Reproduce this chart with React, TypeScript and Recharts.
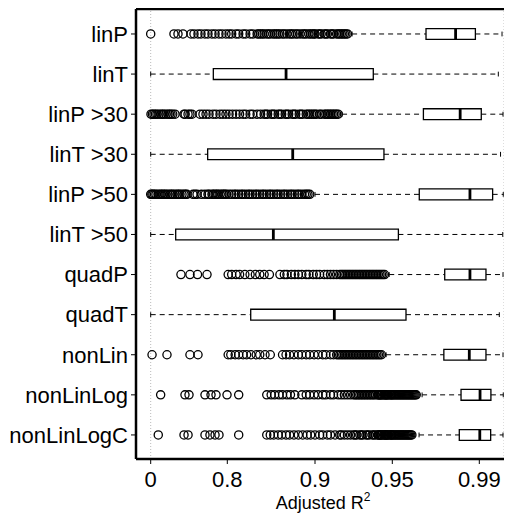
import { ScatterChart, Scatter, XAxis, YAxis, ReferenceLine, ReferenceArea } from 'recharts';

// categories, top to bottom
const CATEGORIES = ['linP', 'linT', 'linP >30', 'linT >30', 'linP >50', 'linT >50', 'quadP', 'quadT', 'nonLin', 'nonLinLog', 'nonLinLogC'];

// box statistics (adjusted R²)
const WHISKER_LOW = [0.924, 0, 0.9175, 0, 0.9, 0, 0.948, 0, 0.946, 0.9637, 0.9623];
const Q1 = [0.9655, 0.654, 0.9643, 0.595, 0.9624, 0.261, 0.9741, 0.8267, 0.9737, 0.9816, 0.9808];
const MEDIAN = [0.9791, 0.867, 0.9812, 0.8746, 0.9857, 0.8525, 0.9857, 0.9125, 0.9854, 0.9903, 0.9902];
const Q3 = [0.9882, 0.9377, 0.9908, 0.9446, 0.9954, 0.9528, 0.9927, 0.9563, 0.9927, 0.9947, 0.9946];
const WHISKER_HIGH = [0.9992, 0.9977, 0.9996, 0.9986, 0.9997, 0.9995, 0.9996, 0.9981, 0.9996, 0.9997, 0.9996];

// outliers per row
const OUT_LINP = [0, 0.243, 0.285, 0.337, 0.421, 0.452, 0.494, 0.525, 0.567, 0.598, 0.64, 0.672, 0.713, 0.745, 0.786, 0.802, 0.805, 0.81, 0.813, 0.818, 0.821, 0.826, 0.829, 0.834, 0.836, 0.838, 0.84, 0.842, 0.845, 0.847, 0.849, 0.852, 0.854, 0.856, 0.858, 0.86, 0.863, 0.865, 0.868, 0.871, 0.873, 0.875, 0.878, 0.88, 0.883, 0.886, 0.888, 0.89, 0.893, 0.895, 0.897, 0.899, 0.9, 0.902, 0.903, 0.904, 0.906, 0.907, 0.908, 0.91, 0.911, 0.912, 0.914, 0.915, 0.916, 0.917, 0.918, 0.919, 0.92, 0.921];
const OUT_LINP30 = [0.003, 0.018, 0.034, 0.05, 0.066, 0.087, 0.108, 0.124, 0.139, 0.16, 0.181, 0.196, 0.212, 0.23, 0.254, 0.348, 0.36, 0.39, 0.41, 0.431, 0.515, 0.546, 0.578, 0.609, 0.651, 0.682, 0.724, 0.755, 0.786, 0.802, 0.806, 0.81, 0.814, 0.818, 0.821, 0.826, 0.829, 0.834, 0.838, 0.842, 0.844, 0.846, 0.85, 0.852, 0.854, 0.858, 0.86, 0.862, 0.866, 0.868, 0.87, 0.874, 0.876, 0.878, 0.882, 0.884, 0.886, 0.89, 0.892, 0.894, 0.896, 0.898, 0.9, 0.901, 0.903, 0.904, 0.906, 0.907, 0.908, 0.909, 0.91, 0.911, 0.912, 0.913, 0.914, 0.915];
const OUT_LINP50 = [0, 0.012, 0.024, 0.04, 0.055, 0.076, 0.097, 0.112, 0.128, 0.144, 0.16, 0.18, 0.202, 0.218, 0.233, 0.254, 0.275, 0.29, 0.306, 0.327, 0.348, 0.364, 0.379, 0.442, 0.463, 0.484, 0.53, 0.567, 0.598, 0.61, 0.64, 0.655, 0.672, 0.69, 0.703, 0.725, 0.745, 0.76, 0.776, 0.79, 0.802, 0.805, 0.808, 0.81, 0.813, 0.816, 0.818, 0.821, 0.824, 0.826, 0.829, 0.832, 0.834, 0.837, 0.84, 0.842, 0.845, 0.848, 0.85, 0.853, 0.856, 0.858, 0.861, 0.864, 0.866, 0.869, 0.872, 0.874, 0.877, 0.88, 0.882, 0.885, 0.888, 0.89, 0.892, 0.894];
const OUT_QUADP = [0.316, 0.41, 0.489, 0.588, 0.801, 0.805, 0.81, 0.814, 0.82, 0.826, 0.832, 0.837, 0.842, 0.848, 0.86, 0.865, 0.868, 0.873, 0.877, 0.881, 0.885, 0.89, 0.893, 0.898, 0.901, 0.903, 0.906, 0.908, 0.91, 0.912, 0.914, 0.916, 0.917, 0.918, 0.919, 0.92, 0.921, 0.922, 0.923, 0.924, 0.925, 0.926, 0.927, 0.928, 0.929, 0.93, 0.931, 0.932, 0.933, 0.934, 0.935, 0.936, 0.937, 0.938, 0.939, 0.94, 0.941, 0.942, 0.943, 0.944, 0.945];
const OUT_NONLIN = [0.014, 0.17, 0.41, 0.494, 0.801, 0.804, 0.809, 0.813, 0.818, 0.822, 0.827, 0.833, 0.837, 0.843, 0.849, 0.863, 0.867, 0.871, 0.876, 0.881, 0.885, 0.89, 0.894, 0.899, 0.902, 0.905, 0.907, 0.91, 0.912, 0.914, 0.915, 0.916, 0.917, 0.918, 0.919, 0.92, 0.921, 0.922, 0.923, 0.924, 0.925, 0.926, 0.927, 0.928, 0.929, 0.93, 0.931, 0.932, 0.933, 0.934, 0.935, 0.936, 0.937, 0.938, 0.939, 0.94, 0.941, 0.942, 0.943];
const OUT_NONLINLOG = [0.104, 0.358, 0.4, 0.567, 0.63, 0.682, 0.797, 0.813, 0.845, 0.85, 0.854, 0.859, 0.863, 0.868, 0.872, 0.877, 0.885, 0.89, 0.894, 0.899, 0.902, 0.905, 0.907, 0.91, 0.912, 0.915, 0.917, 0.919, 0.921, 0.923, 0.925, 0.926, 0.927, 0.928, 0.929, 0.93, 0.931, 0.932, 0.933, 0.934, 0.935, 0.936, 0.937, 0.938, 0.939, 0.9405, 0.941, 0.9415, 0.942, 0.9425, 0.943, 0.9435, 0.9445, 0.945, 0.9455, 0.946, 0.9465, 0.947, 0.9475, 0.9485, 0.949, 0.9495, 0.95, 0.9505, 0.951, 0.9515, 0.952, 0.9525, 0.953, 0.9535, 0.954, 0.9545, 0.955, 0.9555, 0.956, 0.9565, 0.957, 0.9575, 0.958, 0.9585, 0.959, 0.9595, 0.96, 0.9605, 0.961];
const OUT_NONLINLOGC = [0.079, 0.348, 0.39, 0.567, 0.619, 0.672, 0.713, 0.813, 0.845, 0.849, 0.853, 0.858, 0.862, 0.867, 0.871, 0.876, 0.881, 0.886, 0.891, 0.895, 0.9, 0.903, 0.905, 0.908, 0.91, 0.913, 0.916, 0.917, 0.919, 0.921, 0.923, 0.925, 0.926, 0.927, 0.929, 0.93, 0.931, 0.933, 0.934, 0.935, 0.937, 0.938, 0.939, 0.9405, 0.941, 0.9415, 0.942, 0.9425, 0.943, 0.9435, 0.9445, 0.945, 0.9455, 0.946, 0.9465, 0.947, 0.9475, 0.9485, 0.949, 0.9495, 0.95, 0.9505, 0.951, 0.9515, 0.952, 0.9525, 0.953, 0.9535, 0.954, 0.9545, 0.955, 0.9555, 0.956, 0.9565, 0.957, 0.9575, 0.958, 0.9585, 0.959];
const OUTLIERS = [OUT_LINP, [], OUT_LINP30, [], OUT_LINP50, [], OUT_QUADP, [], OUT_NONLIN, OUT_NONLINLOG, OUT_NONLINLOGC];

const TICK_VALUES = [0, 0.8, 0.9, 0.95, 0.99];

// stretched R² axis: piecewise linear between these stops
const R_STOPS = [0, 0.8, 0.9, 0.95, 0.99, 1];
const U_STOPS = [0, 0.766, 1.643, 2.416, 3.286, 3.533];

const toAxis = (r: number) => {
  for (let k = 1; k < R_STOPS.length; k++) {
    if (r <= R_STOPS[k] || k === R_STOPS.length - 1) {
      const f = (r - R_STOPS[k - 1]) / (R_STOPS[k] - R_STOPS[k - 1]);
      return U_STOPS[k - 1] + f * (U_STOPS[k] - U_STOPS[k - 1]);
    }
  }
  return 0;
};

const X_DOMAIN = [-0.147, 3.533];
const Y_DOMAIN = [0.377, 11.6];
const BOX_HALF = 0.135;
const CAP_HALF = 0.06;
const FONT = '"Liberation Sans", Arial, sans-serif';

const points = OUTLIERS.flatMap((row, i) => row.map((r) => ({ x: toAxis(r), y: i + 1 })));

const Circle = (p: any) => <circle cx={p.cx} cy={p.cy} r={4.1} fill="none" stroke="#000" strokeWidth={1.3} />;

const XTitle = (props: any) => {
  const vb = props.viewBox || { x: 128, y: 451, width: 368 };
  return (
    <text x={vb.x + vb.width / 2 + 3} y={vb.y + 50} textAnchor="middle" fontSize={18} fontFamily={FONT} fill="#000">
      Adjusted R<tspan dy={-8} fontSize={12}>2</tspan>
    </text>
  );
};

export default function App() {
  return (
    <ScatterChart width={504} height={512} margin={{ top: 1, right: 8, bottom: 0, left: 0 }}>
      <XAxis
        type="number"
        dataKey="x"
        domain={X_DOMAIN}
        allowDataOverflow
        ticks={TICK_VALUES.map(toAxis)}
        interval={0}
        tickFormatter={(v: number) => String(TICK_VALUES.find((t) => Math.abs(toAxis(t) - v) < 1e-6) ?? '')}
        height={61}
        tickSize={5}
        tickMargin={7}
        axisLine={{ stroke: '#000', strokeWidth: 2.5 }}
        tickLine={{ stroke: '#000' }}
        tick={{ fill: '#000', fontSize: 22, fontFamily: FONT }}
        label={{ content: (p: any) => <XTitle {...p} /> }}
      />
      <YAxis
        type="number"
        dataKey="y"
        domain={Y_DOMAIN}
        allowDataOverflow
        reversed
        ticks={CATEGORIES.map((_, i) => i + 1)}
        interval={0}
        tickFormatter={(v: number) => CATEGORIES[v - 1] ?? ''}
        width={128}
        tickSize={5}
        tickMargin={3}
        axisLine={{ stroke: '#000', strokeWidth: 2.5 }}
        tickLine={{ stroke: '#000' }}
        tick={{ fill: '#000', fontSize: 22, fontFamily: FONT }}
      />
      <ReferenceLine x={toAxis(0)} stroke="#bbb" strokeDasharray="1 2" ifOverflow="visible" />
      <ReferenceLine x={toAxis(1)} stroke="#bbb" strokeDasharray="1 2" ifOverflow="visible" />
      <ReferenceLine y={Y_DOMAIN[0]} stroke="#000" strokeWidth={2.5} ifOverflow="visible" />
      {CATEGORIES.map((name, i) => {
        const y = i + 1;
        const lo = toAxis(WHISKER_LOW[i]);
        const hi = toAxis(WHISKER_HIGH[i]);
        const md = toAxis(MEDIAN[i]);
        return [
          <ReferenceLine key={name + 'wl'} segment={[{ x: lo, y }, { x: toAxis(Q1[i]), y }]} stroke="#000" strokeDasharray="5 4" ifOverflow="visible" />,
          <ReferenceLine key={name + 'wh'} segment={[{ x: toAxis(Q3[i]), y }, { x: hi, y }]} stroke="#000" strokeDasharray="5 4" ifOverflow="visible" />,
          <ReferenceLine key={name + 'cl'} segment={[{ x: lo, y: y - CAP_HALF }, { x: lo, y: y + CAP_HALF }]} stroke="#000" ifOverflow="visible" />,
          <ReferenceLine key={name + 'ch'} segment={[{ x: hi, y: y - CAP_HALF }, { x: hi, y: y + CAP_HALF }]} stroke="#000" ifOverflow="visible" />,
          <ReferenceArea key={name + 'box'} x1={toAxis(Q1[i])} x2={toAxis(Q3[i])} y1={y - BOX_HALF} y2={y + BOX_HALF} fill="#fff" fillOpacity={1} stroke="#000" strokeWidth={1.3} ifOverflow="visible" />,
          <ReferenceLine key={name + 'md'} segment={[{ x: md, y: y - BOX_HALF }, { x: md, y: y + BOX_HALF }]} stroke="#000" strokeWidth={2.8} ifOverflow="visible" />,
        ];
      })}
      <Scatter data={points} shape={Circle} isAnimationActive={false} />
    </ScatterChart>
  );
}
